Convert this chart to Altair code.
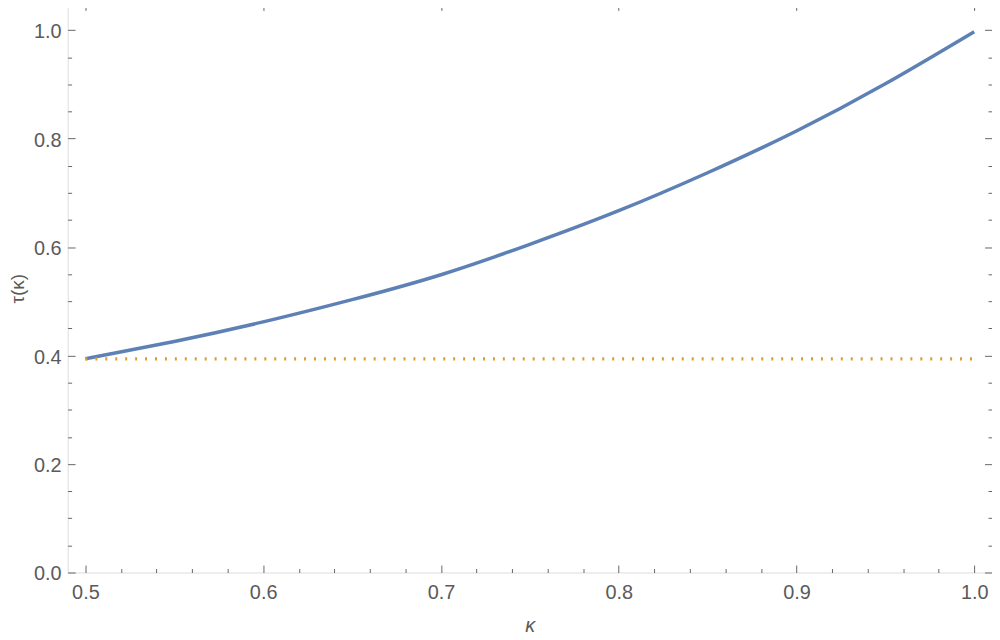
import altair as alt
import pandas as pd

# data
kappa = [0.50, 0.55, 0.60, 0.65, 0.70, 0.75, 0.80, 0.85, 0.90, 0.95, 1.00]
tau = [0.394, 0.426, 0.462, 0.503, 0.549, 0.605, 0.667, 0.737, 0.814, 0.901, 0.997]
ref_kappa = [0.50, 1.00]
ref_tau = [0.394, 0.394]

x_ticks = [round(0.50 + 0.02 * i, 2) for i in range(26)]
y_ticks = [round(0.05 * i, 2) for i in range(21)]

df = pd.DataFrame({"k": kappa, "t": tau})
df_ref = pd.DataFrame({"k": ref_kappa, "t": ref_tau})

FRAME = "#666666"
LABEL = "#5a5a5a"
FONT = "Liberation Sans"

x_scale = alt.Scale(domain=[0.49, 1.01], nice=False, zero=False)
y_scale = alt.Scale(domain=[0.0, 1.05], nice=False, zero=False)

x_size = alt.ExprRef(expr="abs(datum.value*10 - round(datum.value*10)) < 0.001 ? -7.5 : -4")
y_size = alt.ExprRef(expr="abs(datum.value*5 - round(datum.value*5)) < 0.001 ? -7.5 : -4")

common = dict(grid=False, domain=False, tickColor=FRAME, tickWidth=1,
              labelOverlap=False, labelFlush=False)

main = alt.Chart(df).mark_line(color="#5E81B5", strokeWidth=3.5, interpolate="natural").encode(
    x=alt.X("k:Q", scale=x_scale,
            axis=alt.Axis(orient="bottom", values=x_ticks, tickSize=x_size,
                          labelExpr="abs(datum.value*10 - round(datum.value*10)) < 0.001 ? format(datum.value, '.1f') : ''",
                          labelPadding=17.7, labelFontSize=20, labelFont=FONT, labelColor=LABEL,
                          title="κ", titleFontSize=20, titleFont=FONT, titleFontStyle="italic",
                          titleFontWeight="normal", titleColor=LABEL, titleBaseline="middle",
                          titleY=53, **common)),
    y=alt.Y("t:Q", scale=y_scale,
            axis=alt.Axis(orient="left", values=y_ticks, tickSize=y_size,
                          labelExpr="abs(datum.value*5 - round(datum.value*5)) < 0.001 ? format(datum.value, '.1f') : ''",
                          labelPadding=14.1, labelFontSize=20, labelFont=FONT, labelColor=LABEL,
                          labelOffset=1.5,
                          title="τ(κ)", titleFontSize=19, titleFont=FONT,
                          titleFontWeight="normal", titleColor=LABEL, titleBaseline="middle",
                          titleX=-50, titleY=287, titleAlign="center", **common)),
)

ref = alt.Chart(df_ref).mark_line(color="#E19C24", strokeWidth=3.3, strokeDash=[2, 8]).encode(
    x=alt.X("k:Q", scale=x_scale,
            axis=alt.Axis(orient="top", values=x_ticks, tickSize=x_size, labels=False,
                          title=None, **common)),
    y=alt.Y("t:Q", scale=y_scale,
            axis=alt.Axis(orient="right", values=y_ticks, tickSize=y_size, labels=False,
                          title=None, **common)),
)

chart = alt.layer(main, ref).resolve_axis(x="independent", y="independent").properties(
    width=930, height=573,
    autosize=alt.AutoSizeParams(type="none"),
    padding={"left": 60, "top": -7, "right": 0, "bottom": 75},
).configure_view(stroke=FRAME, strokeWidth=1).configure(background="white")

chart.save("out.html", embed_options={"renderer": "svg", "actions": False})
